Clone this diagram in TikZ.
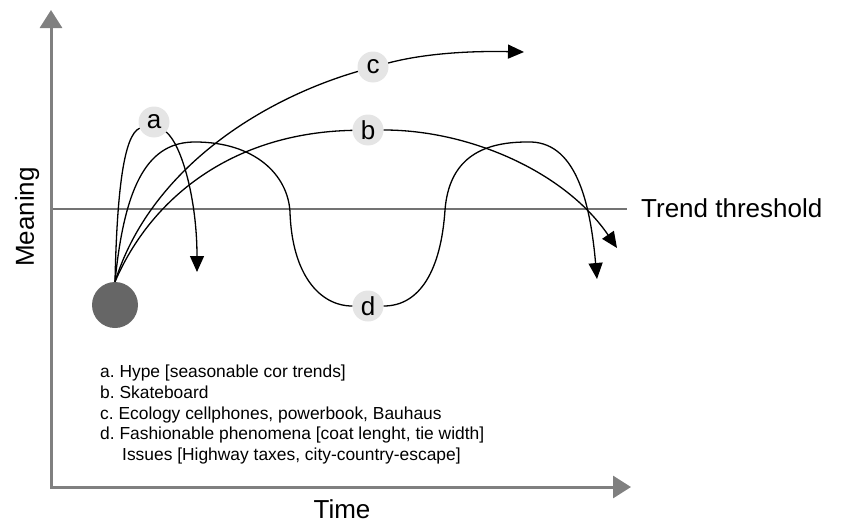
\documentclass[tikz,border=0pt]{standalone}
\usepackage{fontspec}
\setmainfont{Liberation Sans}
\usetikzlibrary{arrows.meta}
\frenchspacing

\newcommand{\axisx}{51}
\newcommand{\axisy}{487}
\newcommand{\threshy}{209}
\newcommand{\threshend}{627}

\tikzset{
  axis/.style={line width=3pt, black!50, -{Triangle[length=18pt,width=22pt]}},
  trend/.style={line width=1.3pt, -{Triangle[length=16pt,width=14pt]}},
  plain/.style={line width=1.3pt},
  curvelabel/.style={circle, fill=black!10, minimum size=31pt, inner sep=0pt,
    font=\fontsize{26}{26}\selectfont},
  bigtext/.style={inner sep=0pt, font=\fontsize{26}{26}\selectfont},
}

\begin{document}
\begin{tikzpicture}[x=1pt, y=-1pt]
  \useasboundingbox (0,0) rectangle (841,522);

  \coordinate (O) at (\axisx, \axisy);
  \coordinate (O1) at (\axisx, \axisy+1.5);
  \coordinate (Y) at (\axisx, 10);
  \coordinate (X) at (631, \axisy);
  \coordinate (T0) at (\axisx, \threshy);
  \coordinate (T1) at (\threshend, \threshy);

  \draw [line width=1.3pt, black!55] (T0) -- (T1);
  \draw [axis] (O1) -- (Y);
  \draw [axis] (O) -- (X);

  \node [circle, fill=black!60, minimum size=46pt, inner sep=0pt] (dot) at (115, 305) {};
  \node [curvelabel] (a) at (154, 122) {a};
  \node [curvelabel] (b) at (368, 130) {b};
  \node [curvelabel] (c) at (373, 67) {c};
  \node [curvelabel] (d) at (368, 306) {d};

  \coordinate (Aend) at (197, 272);
  \coordinate (Bend) at (617, 248);
  \coordinate (Cend) at (524, 52);
  \coordinate (Dend) at (597, 279);
  \coordinate (D1) at (195, 142);
  \coordinate (D2) at (290, 212);
  \coordinate (D3) at (445, 210);
  \coordinate (D4) at (527, 142);

  \draw [plain] (dot.north) .. controls (117, 190) and (124, 135) .. (a);
  \draw [trend] (a) .. controls (182, 145) and (197, 200) .. (Aend);

  \draw [plain] (dot.north) .. controls (150, 170) and (260, 100) .. (c);
  \draw [trend] (c) .. controls (430, 52) and (480, 51) .. (Cend);

  \draw [plain] (dot.north) .. controls (150, 200) and (230, 133) .. (b);
  \draw [trend] (b) .. controls (470, 130) and (565, 172) .. (Bend);

  \draw [plain] (dot.north) .. controls (125, 180) and (150, 142) .. (D1)
    .. controls (255, 142) and (288, 175) .. (D2)
    .. controls (292, 275) and (320, 306) .. (d);
  \draw [trend] (d) .. controls (420, 306) and (441, 270) .. (D3)
    .. controls (449, 160) and (480, 142) .. (D4)
    .. controls (575, 140) and (590, 200) .. (Dend);

  \node [bigtext, anchor=west] (thresh) at (641, 208) {Trend threshold};
  \node [bigtext, rotate=90, anchor=base] (meaning) at (34, 217) {Meaning};
  \node [bigtext, anchor=base] (time) at (342, 518) {Time};

  \node [inner sep=0pt, anchor=north west, align=left,
    font=\fontsize{17.4}{20.7}\selectfont] (legend) at (100, 365)
    {a. Hype [seasonable cor trends]\\
     b. Skateboard\\
     c. Ecology cellphones, powerbook, Bauhaus\\
     d. Fashionable phenomena [coat lenght, tie width]\\
     \hspace*{22pt}Issues [Highway taxes, city-country-escape]};
\end{tikzpicture}
\end{document}
